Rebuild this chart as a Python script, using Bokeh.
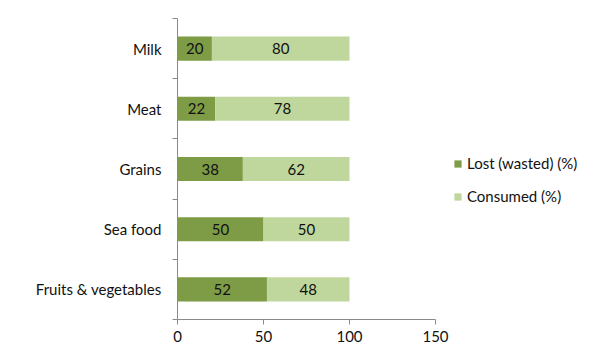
import numpy as np
from bokeh.plotting import figure
from bokeh.models import ColumnDataSource, FixedTicker, Legend, Range1d
from bokeh.core.properties import value
from bokeh.embed import file_html
from bokeh.resources import INLINE

# data (bottom to top)
categories = ["Fruits & vegetables", "Sea food", "Grains", "Meat", "Milk"]
lost = [52, 50, 38, 22, 20]
consumed = [48, 50, 62, 78, 80]
series_names = ["Lost (wasted) (%)", "Consumed (%)"]
x_ticks = [0, 50, 100, 150]

FONT = "Lato"
FS = "15px"
c_lost = "#7E9B45"
c_cons = "#BFD79C"
axis_col = "#8a8a8a"

# layout: axis spans 258 px for 0..150, frame extended to the right for the legend
W, H = 586, 346
left, right_b, top, bottom = 177, 4, 18, 27
axis_px = 258.0
frame_w = W - left - right_b
x_end = x_ticks[-1] * frame_w / axis_px

ypos = np.arange(len(categories)) + 0.5
src = ColumnDataSource(dict(
    y=ypos,
    lost=lost,
    consumed=consumed,
    lost_mid=np.array(lost) / 2.0,
    cons_mid=np.array(lost) + np.array(consumed) / 2.0,
    lost_txt=[str(v) for v in lost],
    cons_txt=[str(v) for v in consumed],
))

p = figure(width=W, height=H, output_backend="svg", toolbar_location=None,
           x_range=Range1d(0, x_end), y_range=Range1d(0, len(categories)),
           min_border_left=left, min_border_right=right_b, min_border_top=top,
           min_border_bottom=bottom)
p.outline_line_color = None
p.grid.grid_line_color = None
p.background_fill_color = "white"
p.border_fill_color = "white"

r = p.hbar_stack(["lost", "consumed"], y="y", height=0.4, source=src,
                 color=[c_lost, c_cons], line_color=None)

p.text(x="lost_mid", y="y", text="lost_txt", source=src, text_align="center",
       text_baseline="middle", text_font=value(FONT), text_font_size=FS, text_color="#111111")
p.text(x="cons_mid", y="y", text="cons_txt", source=src, text_align="center",
       text_baseline="middle", text_font=value(FONT), text_font_size=FS, text_color="#111111")

# x axis
xa = p.xaxis[0]
xa.ticker = FixedTicker(ticks=x_ticks)
xa.bounds = (x_ticks[0], x_ticks[-1])
xa.axis_line_color = axis_col
xa.major_tick_line_color = axis_col
xa.major_tick_out = 5
xa.major_tick_in = 0
xa.minor_tick_line_color = None
xa.major_label_text_font = FONT
xa.major_label_text_font_size = FS
xa.major_label_text_color = "#111111"
xa.major_label_standoff = 6

# y axis: labels at centers, ticks at boundaries
ya = p.yaxis[0]
ya.ticker = FixedTicker(ticks=list(ypos), minor_ticks=list(range(len(categories) + 1)))
ya.major_label_overrides = {float(y): c for y, c in zip(ypos, categories)}
ya.axis_line_color = axis_col
ya.major_tick_line_color = None
ya.major_tick_out = 0
ya.major_tick_in = 0
ya.minor_tick_line_color = axis_col
ya.minor_tick_out = 5
ya.minor_tick_in = 0
ya.major_label_text_font = FONT
ya.major_label_text_font_size = FS
ya.major_label_text_color = "#111111"
ya.major_label_standoff = 11

legend = Legend(items=[(series_names[0], [r[0]]), (series_names[1], [r[1]])],
                location=(276, 113), border_line_color=None, background_fill_alpha=0,
                glyph_width=9, glyph_height=9, label_height=20, spacing=13,
                label_standoff=5, padding=10, margin=0,
                label_text_font=FONT, label_text_font_size=FS, label_text_color="#111111")
p.add_layout(legend, "center")

open("out.html", "w").write(file_html(p, INLINE))
